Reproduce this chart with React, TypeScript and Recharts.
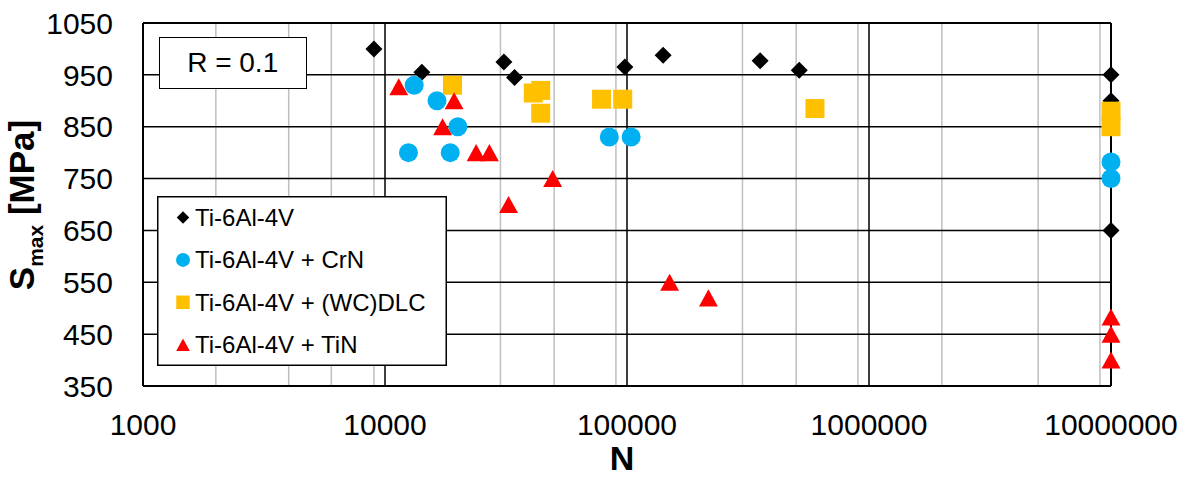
import React from 'react'
import { ScatterChart, Scatter, XAxis, YAxis, CartesianGrid, Legend } from 'recharts'

document.body.style.margin = '0'

const FONT = '"Liberation Sans", Arial, sans-serif'

// axis ticks
const xTicks = [1000, 10000, 100000, 1000000, 10000000]
const yTicks = [350, 450, 550, 650, 750, 850, 950, 1050]
const majorX = [10000, 100000, 1000000]
const majorY = [450, 550, 650, 750, 850, 950]
const minorX = xTicks.slice(0, -1).flatMap((d) => [2, 3, 4, 5, 6, 7, 8, 9].map((m) => m * d))

// N (cycles) vs S_max (MPa)
const tiBase = [
  { n: 9000, s: 1000 },
  { n: 14200, s: 955 },
  { n: 31000, s: 975 },
  { n: 34300, s: 945 },
  { n: 98000, s: 965 },
  { n: 141000, s: 988 },
  { n: 355000, s: 977 },
  { n: 515000, s: 959 },
  { n: 10000000, s: 950 },
  { n: 10000000, s: 900 },
  { n: 10000000, s: 650 },
]

const tiCrN = [
  { n: 13200, s: 930 },
  { n: 16400, s: 900 },
  { n: 20000, s: 850 },
  { n: 12500, s: 800 },
  { n: 18600, s: 800 },
  { n: 84500, s: 830 },
  { n: 104000, s: 830 },
  { n: 10000000, s: 782 },
  { n: 10000000, s: 750 },
]

const tiDLC = [
  { n: 19000, s: 930 },
  { n: 41000, s: 915 },
  { n: 44000, s: 920 },
  { n: 44000, s: 876 },
  { n: 78500, s: 903 },
  { n: 96000, s: 903 },
  { n: 598000, s: 885 },
  { n: 10000000, s: 880 },
  { n: 10000000, s: 850 },
]

const tiTiN = [
  { n: 11400, s: 927 },
  { n: 19300, s: 900 },
  { n: 17300, s: 850 },
  { n: 23800, s: 800 },
  { n: 27000, s: 800 },
  { n: 49300, s: 750 },
  { n: 32400, s: 700 },
  { n: 150000, s: 550 },
  { n: 217000, s: 520 },
  { n: 10000000, s: 483 },
  { n: 10000000, s: 450 },
  { n: 10000000, s: 400 },
]

type Kind = 'diamond' | 'circle' | 'square' | 'triangle'

const series: { name: string; data: { n: number; s: number }[]; color: string; kind: Kind; size: number; legendSize: number }[] = [
  { name: 'Ti-6Al-4V', data: tiBase, color: '#000000', kind: 'diamond', size: 17, legendSize: 12.5 },
  { name: 'Ti-6Al-4V + CrN', data: tiCrN, color: '#00B0F0', kind: 'circle', size: 19, legendSize: 14 },
  { name: 'Ti-6Al-4V + (WC)DLC', data: tiDLC, color: '#FFC000', kind: 'square', size: 19, legendSize: 13.5 },
  { name: 'Ti-6Al-4V + TiN', data: tiTiN, color: '#FF0000', kind: 'triangle', size: 18, legendSize: 13 },
]

function Marker({ kind, cx, cy, size, color }: { kind: Kind; cx: number; cy: number; size: number; color: string }) {
  const h = size / 2
  if (kind === 'diamond')
    return <polygon points={`${cx},${cy - h} ${cx + h},${cy} ${cx},${cy + h} ${cx - h},${cy}`} fill={color} />
  if (kind === 'circle') return <circle cx={cx} cy={cy} r={h} fill={color} />
  if (kind === 'square') return <rect x={cx - h} y={cy - h} width={size} height={size} fill={color} />
  return (
    <polygon
      points={`${cx},${cy - h * 0.95} ${cx + h * 1.05},${cy + h * 0.95} ${cx - h * 1.05},${cy + h * 0.95}`}
      fill={color}
    />
  )
}

function LegendBox() {
  return (
    <svg width={290} height={170} style={{ display: 'block' }}>
      <rect x={0.75} y={0.75} width={288.5} height={168.5} fill="#fff" stroke="#000" strokeWidth={1.5} />
      {series.map((s, i) => {
        const y = 21.5 + i * 42.4
        return (
          <g key={s.name}>
            <Marker kind={s.kind} cx={26} cy={y} size={s.legendSize} color={s.color} />
            <text x={38} y={y} dy={8.5} fontSize={24} fontFamily={FONT} fill="#000">
              {s.name}
            </text>
          </g>
        )
      })}
    </svg>
  )
}

function YLabel() {
  return (
    <text
      transform="rotate(-90, 34, 205)"
      x={34}
      y={205}
      textAnchor="middle"
      fontFamily={FONT}
      fontWeight="bold"
      fontSize={35}
      fill="#000"
    >
      S
      <tspan fontSize={21} dy={9}>
        max
      </tspan>
      <tspan dy={-9}> [MPa]</tspan>
    </text>
  )
}

export default function App() {
  return (
    <div style={{ position: 'relative', width: 1188, height: 478, background: '#fff' }}>
      <ScatterChart width={1188} height={478} margin={{ top: 23, right: 77, bottom: 0, left: 0 }}>
        <CartesianGrid horizontal={false} verticalValues={minorX} stroke="#BFBFBF" strokeWidth={1.5} />
        <CartesianGrid horizontalValues={majorY} verticalValues={majorX} stroke="#000" strokeWidth={1.5} />
        <CartesianGrid horizontalValues={[350, 1050]} verticalValues={[1000, 10000000]} stroke="#000" strokeWidth={2} />
        <XAxis
          dataKey="n"
          type="number"
          scale="log"
          domain={[1000, 10000000]}
          ticks={xTicks}
          axisLine={false}
          tickLine={false}
          tickSize={0}
          tickMargin={28}
          height={92}
          tick={{ fill: '#000', fontSize: 30, fontFamily: FONT }}
          label={{
            content: () => (
              <text x={622} y={470} textAnchor="middle" fontFamily={FONT} fontWeight="bold" fontSize={34} fill="#000">
                N
              </text>
            ),
          }}
        />
        <YAxis
          dataKey="s"
          type="number"
          domain={[350, 1050]}
          ticks={yTicks}
          axisLine={false}
          tickLine={false}
          tickSize={0}
          tickMargin={30}
          width={143}
          tick={{ fill: '#000', fontSize: 30, fontFamily: FONT }}
          label={{ content: () => <YLabel /> }}
        />
        {series.map((s) => (
          <Scatter
            key={s.name}
            name={s.name}
            data={s.data}
            fill={s.color}
            isAnimationActive={false}
            shape={(p: any) => <Marker kind={s.kind} cx={p.cx} cy={p.cy} size={s.size} color={s.color} />}
          />
        ))}
        <Legend
          layout="vertical"
          align="center"
          verticalAlign="middle"
          wrapperStyle={{ left: 157, top: 196, width: 290, height: 170 }}
          content={() => <LegendBox />}
        />
      </ScatterChart>
      <div
        style={{
          position: 'absolute',
          left: 158.7,
          top: 36.7,
          width: 148,
          height: 52.6,
          boxSizing: 'border-box',
          border: '1.5px solid #000',
          background: '#fff',
          fontFamily: FONT,
          fontSize: 28,
          display: 'flex',
          alignItems: 'center',
          justifyContent: 'center',
        }}
      >
        R = 0.1
      </div>
    </div>
  )
}
